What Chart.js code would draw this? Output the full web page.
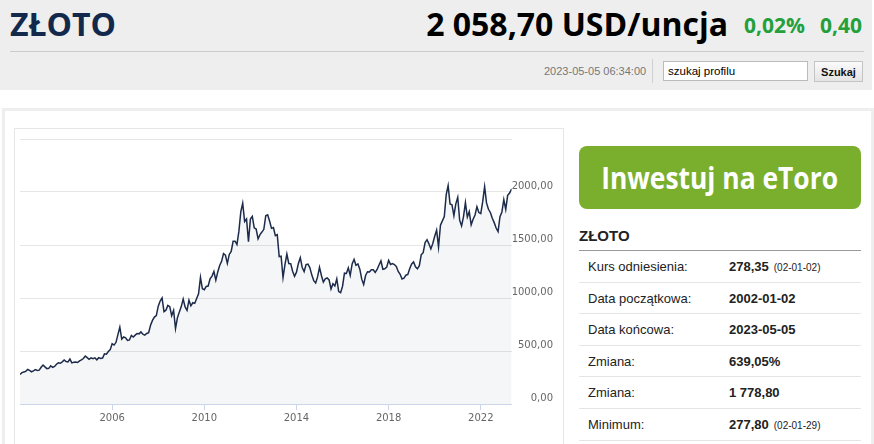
<!DOCTYPE html>
<html>
<head>
<meta charset="utf-8">
<script src="https://cdn.jsdelivr.net/npm/chart.js@4"></script>
<style>
  body { margin: 0; background: #fff; font-family: "Liberation Sans", Arial, sans-serif; width: 874px; height: 444px; overflow: hidden; position: relative; }
  .abs { position: absolute; }
  #hdr { left: 0; top: 0; width: 872px; height: 90px; background: #eeeeee; }
  .big { font-family: "Open Sans", sans-serif; font-weight: 700; font-size: 32px; line-height: 32px; white-space: nowrap; }
  .chg { font-family: "Open Sans", sans-serif; font-weight: 700; font-size: 21px; line-height: 21px; color: #23a03a; white-space: nowrap; }
  #panel { left: 2px; top: 108px; width: 866px; height: 400px; border: 3px solid #eeeeee; }
  #chartBox { left: 14px; top: 128px; width: 548px; height: 330px; border: 1px solid #e6e6e6; }
  #btn { left: 579px; top: 146px; width: 282px; height: 63px; border-radius: 8px; background: #7aaf2d; color: #fff;
         font-family: "Open Sans", sans-serif; font-weight: 700; font-size: 30px; line-height: 63px; text-align: center; }
  #btn span { display: inline-block; transform: scaleX(0.88); }
  .row { left: 579px; width: 282px; height: 30.6px; border-bottom: 1px solid #e5e5e5; font-size: 13px; color: #222; }
  .row .l { position: absolute; left: 9px; top: 8px; }
  .row .v { position: absolute; left: 150px; top: 8px; font-weight: 700; }
  .row .d { font-size: 10px; font-weight: 400; margin-left: 5px; }
</style>
</head>
<body>
<div id="hdr" class="abs"></div>
<div class="abs big" style="left:10px;top:8px;color:#13294b;">ZŁOTO</div>
<div class="abs big" style="right:146px;top:8px;color:#000;">2 058,70 USD/uncja</div>
<div class="abs chg" style="left:744px;top:15px;">0,02%</div>
<div class="abs chg" style="left:820px;top:15px;">0,40</div>
<div class="abs" style="left:10px;top:51px;width:854px;height:1px;background:#cccccc;"></div>
<div class="abs" style="left:544px;top:65px;font-size:11px;color:#777;">2023-05-05 06:34:00</div>
<div class="abs" style="left:652px;top:59px;width:1px;height:24px;background:#d0d0d0;"></div>
<div class="abs" style="left:663px;top:61px;width:143px;height:18px;border:1px solid #bbb;background:#fff;font-size:11.5px;line-height:18px;"><span style="padding-left:4px;">szukaj profilu</span></div>
<div class="abs" style="left:814px;top:61px;width:47px;height:19px;border:1px solid #c4c4c4;background:linear-gradient(#fafafa,#e4e4e4);font-size:11px;font-weight:700;line-height:20px;text-align:center;color:#111;">Szukaj</div>

<div id="panel" class="abs"></div>
<div id="chartBox" class="abs"></div>
<canvas id="goldChart" class="abs" width="547" height="300" style="left:15px;top:129px;"></canvas>

<div id="btn" class="abs"><span>Inwestuj na eToro</span></div>
<div class="abs" style="left:579px;top:227px;font-size:15px;font-weight:700;color:#222;">ZŁOTO</div>
<div class="abs" style="left:579px;top:250px;width:282px;height:1px;background:#999;"></div>
<div id="rows"></div>

<script>
// gold price, USD per ounce, one row per year (Jan..Dec)
const startYear = 2002;
const prices = [
  [279, 296, 302, 308, 326, 318, 304, 312, 324, 316, 319, 347],
  [368, 350, 334, 336, 361, 346, 354, 375, 388, 384, 398, 416],
  [400, 397, 424, 388, 393, 395, 391, 407, 416, 429, 453, 438],
  [422, 435, 428, 436, 417, 437, 429, 433, 473, 470, 495, 513],
  [569, 556, 582, 654, 725, 613, 633, 624, 599, 604, 646, 632],
  [650, 665, 662, 680, 659, 650, 665, 673, 743, 789, 820, 834],
  [923, 971, 1000, 871, 885, 930, 918, 833, 884, 712, 814, 869],
  [919, 990, 916, 883, 980, 926, 955, 949, 996, 1040, 1195, 1087],
  [1078, 1109, 1113, 1180, 1207, 1250, 1169, 1246, 1307, 1346, 1420, 1405],
  [1327, 1411, 1439, 1535, 1536, 1505, 1628, 1813, 1895, 1722, 1746, 1531],
  [1744, 1770, 1662, 1651, 1558, 1598, 1622, 1648, 1776, 1785, 1726, 1657],
  [1664, 1588, 1598, 1390, 1394, 1192, 1314, 1415, 1326, 1324, 1253, 1205],
  [1244, 1326, 1380, 1288, 1250, 1315, 1320, 1285, 1216, 1164, 1142, 1199],
  [1290, 1212, 1150, 1180, 1190, 1171, 1085, 1135, 1114, 1180, 1061, 1050],
  [1111, 1234, 1232, 1285, 1214, 1321, 1365, 1309, 1322, 1272, 1178, 1128],
  [1212, 1248, 1245, 1266, 1266, 1242, 1269, 1311, 1350, 1271, 1275, 1291],
  [1355, 1317, 1325, 1316, 1298, 1250, 1224, 1180, 1187, 1215, 1222, 1279],
  [1321, 1340, 1295, 1275, 1305, 1409, 1427, 1523, 1550, 1511, 1463, 1515],
  [1582, 1640, 1480, 1686, 1728, 1768, 1975, 2060, 1887, 1880, 1776, 1888],
  [1950, 1734, 1680, 1768, 1900, 1763, 1814, 1690, 1743, 1783, 1860, 1806],
  [1796, 1909, 2050, 1897, 1837, 1807, 1753, 1711, 1660, 1626, 1768, 1812],
  [1928, 1836, 1969, 1990, 2030]
];
const tickYears = [2006, 2010, 2014, 2018, 2022];
const yTicks = [0, 500, 1000, 1500, 2000, 2500];
const xMin = 2002.0, xMax = 2023.34;

const tableLabels = ["Kurs odniesienia:", "Data początkowa:", "Data końcowa:", "Zmiana:", "Zmiana:", "Minimum:"];
const tableValues = ["278,35", "2002-01-02", "2023-05-05", "639,05%", "1 778,80", "277,80"];
const tableDates = ["(02-01-02)", "", "", "", "", "(02-01-29)"];

// table on the right
const rows = document.getElementById("rows");
tableLabels.forEach((lab, i) => {
  const r = document.createElement("div");
  r.className = "abs row";
  r.style.top = (251 + i * 31.6) + "px";
  r.innerHTML = '<span class="l">' + lab + '</span><span class="v">' + tableValues[i] +
    (tableDates[i] ? '<span class="d">' + tableDates[i] + '</span>' : '') + '</span>';
  rows.appendChild(r);
});

const points = [];
prices.forEach((row, yi) => {
  row.forEach((v, m) => {
    let x = startYear + yi + m / 12;
    if (x > xMax) x = xMax;
    points.push({ x: x, y: v });
  });
});
points[points.length - 1].x = xMax;

const labelFont = { family: "DejaVu Sans", size: 10 };

new Chart(document.getElementById("goldChart"), {
  type: "line",
  data: {
    datasets: [{
      data: points,
      borderColor: "#1c2b4a",
      borderWidth: 1.5,
      backgroundColor: "rgba(28,43,74,0.045)",
      fill: "origin",
      pointRadius: 0,
      tension: 0
    }]
  },
  options: {
    responsive: false,
    animation: false,
    layout: { padding: { left: 5, top: 10, right: 9, bottom: 3 } },
    plugins: { legend: { display: false }, tooltip: { enabled: false } },
    scales: {
      x: {
        type: "linear",
        min: xMin,
        max: xMax,
        afterBuildTicks: (axis) => { axis.ticks = tickYears.map((v) => ({ value: v })); },
        grid: { drawOnChartArea: false, drawTicks: true, tickLength: 6, color: "#ccd6eb" },
        border: { display: true, color: "#ccd6eb" },
        ticks: {
          autoSkip: false, maxRotation: 0, padding: 2, color: "#666",
          font: labelFont,
          callback: (v) => String(v)
        }
      },
      y: {
        position: "right",
        min: 0,
        max: 2500,
        afterBuildTicks: (axis) => { axis.ticks = yTicks.map((v) => ({ value: v })); },
        grid: { color: "#e6e6e6", drawTicks: false },
        border: { display: false },
        ticks: {
          padding: 0, crossAlign: "far", labelOffset: -6, color: "#666",
          font: labelFont,
          callback: (v) => (v === 2500 ? "" : v.toFixed(2).replace(".", ","))
        }
      }
    }
  }
});
</script>
</body>
</html>
